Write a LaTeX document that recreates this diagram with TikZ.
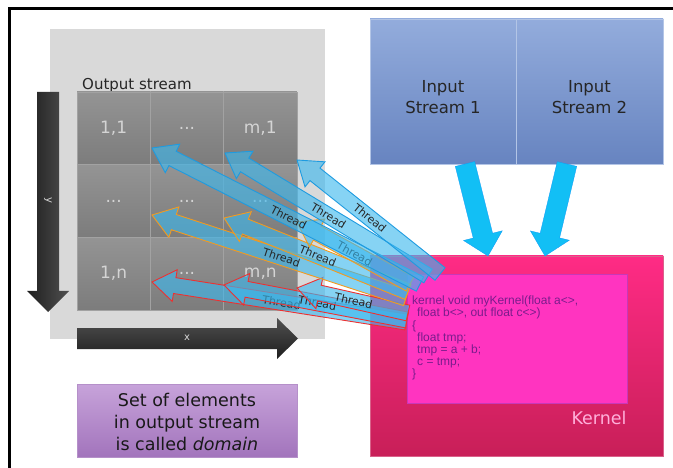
\documentclass[tikz,border=0pt]{standalone}
\usepackage{fontspec}
\setmainfont{DejaVu Sans}
\newfontfamily\codefont{Liberation Sans}
\usetikzlibrary{calc}
\definecolor{panelgray}{HTML}{D9D9D9}
\definecolor{celltop}{HTML}{949494}
\definecolor{cellbot}{HTML}{7C7C7C}
\definecolor{cellline}{HTML}{A2A2A2}
\definecolor{celltext}{HTML}{D4D4D4}
\definecolor{axdark}{HTML}{1E1E1E}
\definecolor{axlight}{HTML}{505050}
\definecolor{intop}{HTML}{93ACDC}
\definecolor{inbot}{HTML}{6784C0}
\definecolor{kertop}{HTML}{FF2B85}
\definecolor{kerbot}{HTML}{C81F58}
\definecolor{inner}{HTML}{FF34C0}
\definecolor{innerline}{HTML}{C838B8}
\definecolor{codecol}{HTML}{7A1C8C}
\definecolor{kerlabel}{HTML}{FFB0DA}
\definecolor{purtop}{HTML}{C7A3DA}
\definecolor{purbot}{HTML}{A274BC}
\definecolor{cyanarrow}{HTML}{12BFF5}
\definecolor{thrfill}{HTML}{3CB8EE}
\definecolor{thrblue}{HTML}{1E9BE0}
\definecolor{throrange}{HTML}{F39A1E}
\definecolor{thrred}{HTML}{EE3030}
\newcommand\blkarrow[6]{%
  \coordinate (bhH) at ($(#3)!#6!(#2)$);
  \path[#1] ($(#2)!#4!90:(#3)$) -- ($(bhH)!#4!90:(#3)$) -- ($(bhH)!#5!90:(#3)$) -- (#3)
    -- ($(bhH)!#5!-90:(#3)$) -- ($(bhH)!#4!-90:(#3)$) -- ($(#2)!#4!-90:(#3)$) -- cycle;
}
\tikzset{
  box/.style={inner sep=0pt, outer sep=0pt},
  cell/.style={box, draw=cellline, line width=0.4pt, top color=celltop, bottom color=cellbot,
    minimum width=73.33pt, minimum height=72.67pt, text=celltext, font=\fontsize{17}{20}\selectfont},
  thr/.style={fill=thrfill, fill opacity=0.62, line width=0.9pt, line join=miter},
  thrlabel/.style={sloped, pos=0.49, font=\fontsize{11}{12}\selectfont, text=black!85, inner sep=0pt},
  cyanstyle/.style={fill=cyanarrow, draw=cyanarrow!80!blue, line width=0.3pt},
}
\begin{document}
\begin{tikzpicture}[x=1pt,y=-1pt]
\useasboundingbox (0,0) rectangle (673,468);
\fill[white] (0,0) rectangle (673,468);
% frame
\draw[line width=3pt] (9,470) -- (9,9) -- (675,9);
% output panel
\node[box, fill=panelgray, minimum width=275pt, minimum height=310pt] (panel) at (187.5,184) {};
\node[anchor=base west, inner sep=0pt, font=\fontsize{15}{17}\selectfont, text=black!85] (outlbl) at (82,90) {Output stream};
% cells
\node[cell] (c11) at (113.67,128.33) {1,1};
\node[cell] (c21) at (187,128.33) {...};
\node[cell] (c31) at (260.33,128.33) {m,1};
\node[cell] (c12) at (113.67,201) {...};
\node[cell] (c22) at (187,201) {...};
\node[cell] (c32) at (260.33,201) {...};
\node[cell] (c13) at (113.67,273.67) {1,n};
\node[cell] (c23) at (187,273.67) {...};
\node[cell] (c33) at (260.33,273.67) {m,n};
% y axis arrow
\shade[left color=axdark, right color=axlight] (37,92) -- (59,92) -- (59,291) -- (69,291) -- (48,312) -- (27,291) -- (37,291) -- cycle;
\node[rotate=-90, text=white!85!black, font=\fontsize{10}{12}\selectfont, inner sep=0pt] (ylbl) at (48,200) {y};
% x axis arrow
\shade[top color=axlight, bottom color=axdark] (77,328) -- (277,328) -- (277,318) -- (298,338.5) -- (277,359) -- (277,349) -- (77,349) -- cycle;
\node[text=white!85!black, font=\fontsize{10}{12}\selectfont, inner sep=0pt] (xlbl) at (187,338) {x};
% domain box
\node[box, top color=purtop, bottom color=purbot, draw=purbot!80!white, line width=0.4pt,
  minimum width=220pt, minimum height=73pt] (dom) at (187,420.5) {};
\node[align=center, font=\fontsize{17.5}{21.7}\selectfont, text=black!90, inner sep=0pt] (domtxt) at (187,422)
  {Set of elements\\in output stream\\is called \textit{domain}};
% input streams
\node[box, top color=intop, bottom color=inbot, draw=intop!70!white, line width=0.4pt,
  minimum width=146pt, minimum height=145pt] (in1) at (443,91.5) {};
\node[box, top color=intop, bottom color=inbot, draw=intop!70!white, line width=0.4pt,
  minimum width=147pt, minimum height=145pt] (in2) at (589.5,91.5) {};
\node[align=center, font=\fontsize{16.5}{21}\selectfont, text=black!85, inner sep=0pt] (in1txt) at (443,97) {Input\\Stream 1};
\node[align=center, font=\fontsize{16.5}{21}\selectfont, text=black!85, inner sep=0pt] (in2txt) at (589.5,97) {Input\\Stream 2};
% kernel
\node[box, top color=kertop, bottom color=kerbot, draw=kerbot!70!white, line width=0.4pt,
  minimum width=293pt, minimum height=200pt] (ker) at (516.5,356) {};
\node[box, fill=inner, draw=innerline, line width=1pt, minimum width=220pt, minimum height=128pt] (inbox) at (517,339) {};
\node[anchor=north west, align=left, inner sep=0pt, text=codecol, font=\codefont\fontsize{12}{12.1}\selectfont] (code) at (412,296)
  {kernel void myKernel(float a<>,\\\hspace*{5pt}float b<>, out float c<>)\\\{\\\hspace*{5pt}float tmp;\\\hspace*{5pt}tmp = a + b;\\\hspace*{5pt}c = tmp;\\\}};
\node[font=\fontsize{17.5}{20}\selectfont, text=kerlabel, inner sep=0pt] (kerlbl) at (599,418) {Kernel};
% cyan arrows from inputs to kernel
\coordinate (ca1) at (465,164);
\coordinate (ca1t) at (488,256);
\coordinate (ca2) at (567,164);
\coordinate (ca2t) at (545,256);
\blkarrow{cyanstyle}{ca1}{ca1t}{10pt}{20pt}{21pt}
\blkarrow{cyanstyle}{ca2}{ca2t}{10pt}{20pt}{21pt}
% thread arrows
\coordinate (rt1) at (406,322); \coordinate (rp1) at (152,282);
\coordinate (rt2) at (407,320); \coordinate (rp2) at (224,285);
\coordinate (rt3) at (408,313); \coordinate (rp3) at (297,288);
\coordinate (ot1) at (406,298); \coordinate (op1) at (152,215);
\coordinate (ot2) at (408,292); \coordinate (op2) at (224,218);
\coordinate (ot3) at (410,284); \coordinate (op3) at (297,222);
\coordinate (bt1) at (420,284); \coordinate (bp1) at (152,148);
\coordinate (bt2) at (428,276); \coordinate (bp2) at (225,153);
\coordinate (bt3) at (440,274); \coordinate (bp3) at (297,160);
\foreach \t/\p/\c in {rt1/rp1/thrred, rt2/rp2/thrred, rt3/rp3/thrred,
                      ot1/op1/throrange, ot2/op2/throrange, ot3/op3/throrange,
                      bt1/bp1/thrblue, bt2/bp2/thrblue, bt3/bp3/thrblue}{
  \blkarrow{thr, draw=\c}{\t}{\p}{8pt}{16pt}{23pt}
  \path (\t) -- (\p) node[thrlabel] {Thread};
}
\end{tikzpicture}
\end{document}
